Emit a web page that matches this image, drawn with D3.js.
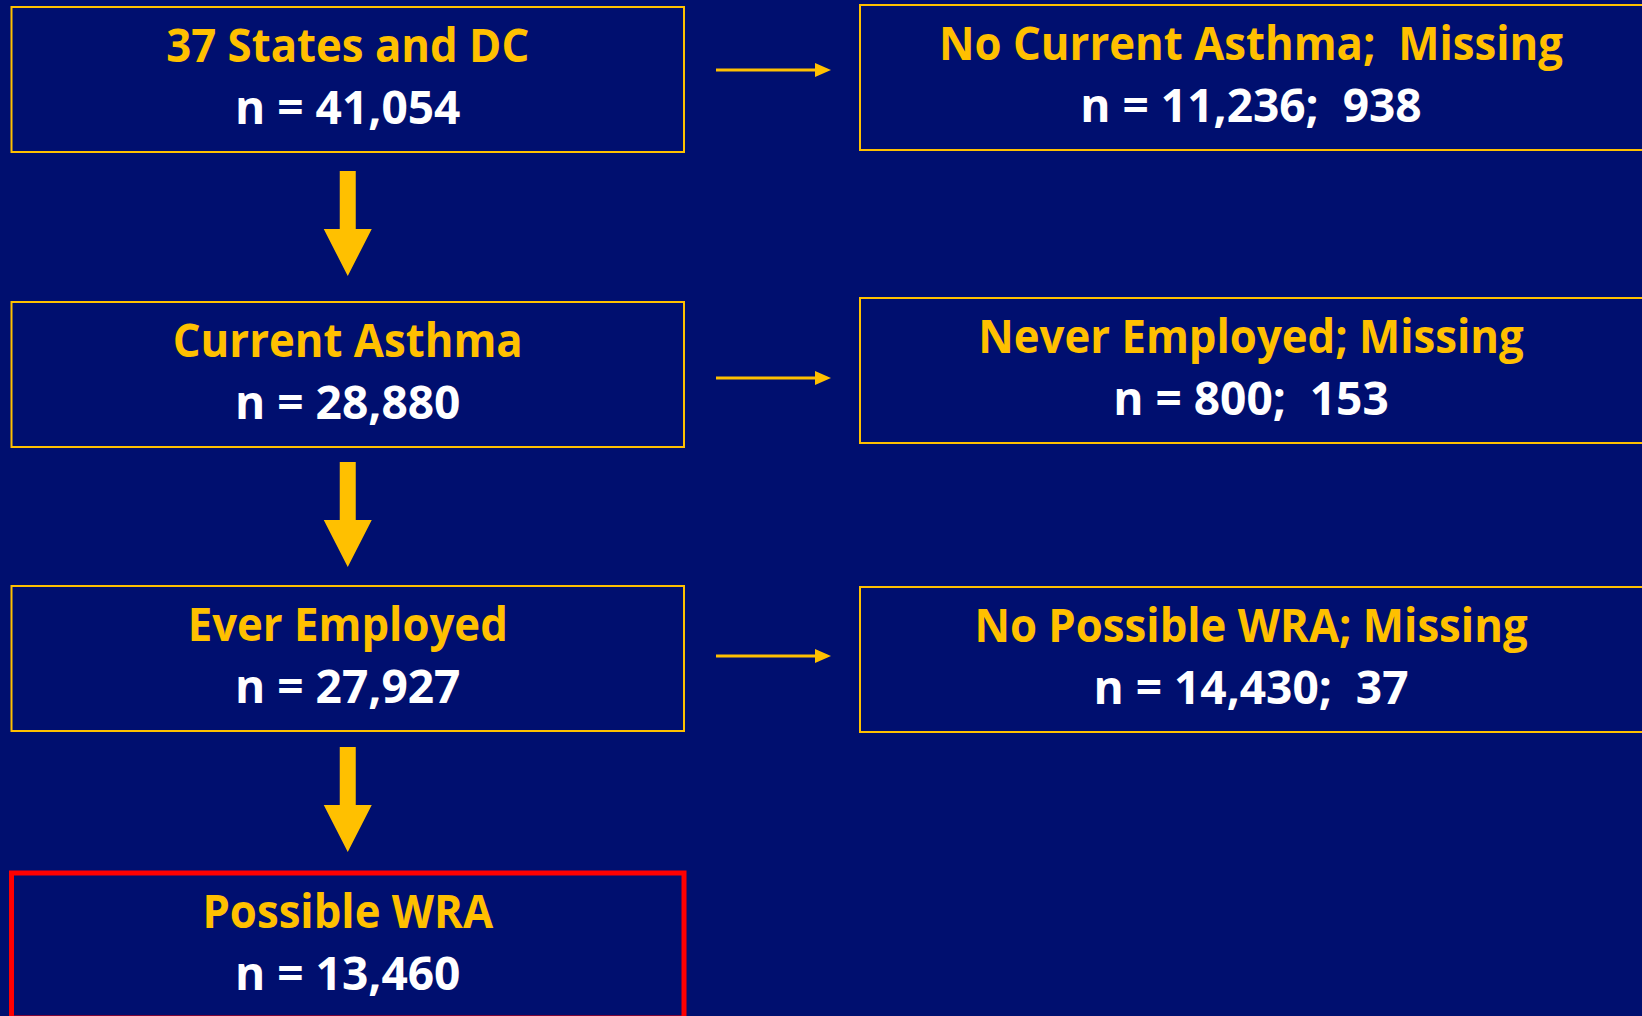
<!DOCTYPE html>
<html>
<head>
<meta charset="utf-8">
<script src="https://cdn.jsdelivr.net/npm/d3@7"></script>
<style>
  html, body { margin: 0; padding: 0; background: #000F6F; overflow: hidden; }
  text { white-space: pre; }
</style>
</head>
<body>
<div id="canvas"></div>
<script>
// flow steps down the left side
var stepTitles = ["37 States and DC", "Current Asthma", "Ever Employed", "Possible WRA"];
var stepCounts = ["41,054", "28,880", "27,927", "13,460"];
// exclusions on the right side
var exclTitles = ["No Current Asthma;  Missing", "Never Employed; Missing", "No Possible WRA; Missing"];
var exclCounts = ["11,236;  938", "800;  153", "14,430;  37"];

var width = 1642, height = 1016;
var yellow = "#FFC000", navy = "#000F6F";
// font is wider than the original so squeeze text a bit
var squeezeTitle = 0.93, squeezeCount = 0.98;

var svg = d3.select("#canvas").append("svg")
  .attr("width", width).attr("height", height);
svg.append("rect").attr("width", width).attr("height", height).attr("fill", navy);

// row tops for left and right boxes
var leftTop = d3.scaleOrdinal().domain(stepTitles).range([7, 302, 586, 873]);
var rightTop = d3.scaleOrdinal().domain(exclTitles).range([5, 298, 587]);
var boxH = 145;
var left = {x0: 11.5, x1: 684};
var right = {x0: 860, x1: 1660, cx: 1251};

function addText(g, cx, y, s, sq, fill){
  g.append("text")
    .attr("transform", "translate(" + cx + "," + y + ") scale(" + sq + ",1)")
    .attr("text-anchor", "middle")
    .attr("font-family", "'Open Sans', sans-serif")
    .attr("font-weight", 700).attr("font-size", 47)
    .attr("fill", fill)
    .text(s);
}

function drawBox(g, x0, x1, top, cx, title, count, stroke, sw){
  g.append("rect")
    .attr("x", x0).attr("y", top)
    .attr("width", x1 - x0).attr("height", boxH)
    .attr("fill", navy).attr("stroke", stroke).attr("stroke-width", sw);
  addText(g, cx, top + 55, title, squeezeTitle, yellow);
  addText(g, cx, top + 117, "n = " + count, squeezeCount, "#ffffff");
}

var boxes = svg.append("g");
stepTitles.forEach(function(d, i){
  var last = i == stepTitles.length - 1;
  drawBox(boxes, left.x0, left.x1, leftTop(d), (left.x0 + left.x1) / 2, d, stepCounts[i],
    last ? "#FF0000" : yellow, last ? 5 : 2);
});
exclTitles.forEach(function(d, i){
  drawBox(boxes, right.x0, right.x1, rightTop(d), right.cx, d, exclCounts[i], yellow, 2);
});

// big down arrows between left boxes
var cx = (left.x0 + left.x1) / 2;
var arrowTop = [171, 462, 747];
arrowTop.forEach(function(y0){
  var shaft = 58, head = 47, sw = 8, hw = 24;
  var pts = [
    [cx - sw, y0], [cx + sw, y0], [cx + sw, y0 + shaft], [cx + hw, y0 + shaft],
    [cx, y0 + shaft + head], [cx - hw, y0 + shaft], [cx - sw, y0 + shaft]
  ];
  svg.append("path").attr("d", d3.line()(pts) + "Z").attr("fill", yellow);
});

// small side arrows toward the exclusion boxes
var arrowY = [70, 378, 656];
arrowY.forEach(function(y){
  svg.append("line")
    .attr("x1", 716).attr("x2", 817)
    .attr("y1", y).attr("y2", y)
    .attr("stroke", yellow).attr("stroke-width", 3);
  svg.append("path")
    .attr("d", d3.line()([[815, y - 7], [831, y], [815, y + 7]]) + "Z")
    .attr("fill", yellow);
});
</script>
</body>
</html>
